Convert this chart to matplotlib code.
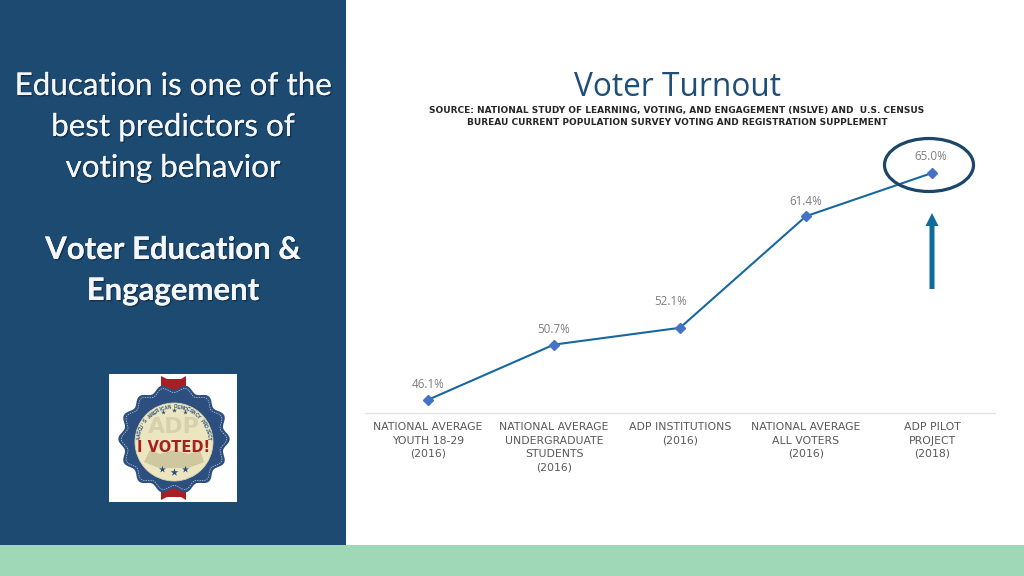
import numpy as np
import matplotlib
matplotlib.use("Agg")
import matplotlib.pyplot as plt
import matplotlib.patheffects as pe
from matplotlib.patches import Rectangle, Ellipse, Circle, Polygon, FancyArrow

categories = ["NATIONAL AVERAGE\nYOUTH 18-29\n(2016)",
              "NATIONAL AVERAGE\nUNDERGRADUATE\nSTUDENTS\n(2016)",
              "ADP INSTITUTIONS\n(2016)",
              "NATIONAL AVERAGE\nALL VOTERS\n(2016)",
              "ADP PILOT\nPROJECT\n(2018)"]
turnout = [46.1, 50.7, 52.1, 61.4, 65.0]
title = "Voter Turnout"
source = ("SOURCE: NATIONAL STUDY OF LEARNING, VOTING, AND ENGAGEMENT (NSLVE) AND  U.S. CENSUS\n"
          "BUREAU CURRENT POPULATION SURVEY VOTING AND REGISTRATION SUPPLEMENT")
side_lines = ["Education is one of the", "best predictors of", "voting behavior"]
side_bold = ["Voter Education &", "Engagement"]
label_shift_px = [(0, 15), (0, 15), (-9, 26), (0, 15), (-1, 16)]

W, H = 1024, 576
fig = plt.figure(figsize=(W / 100, H / 100), dpi=100, facecolor="white")

bg = fig.add_axes([0, 0, 1, 1], zorder=0)
bg.set_xlim(0, W); bg.set_ylim(H, 0); bg.axis("off")
NAVY = "#1c4a70"
bg.add_patch(Rectangle((0, 0), 346, 545, color=NAVY, lw=0))
bg.add_patch(Rectangle((0, 545), W, 31, color="#9fd8b7", lw=0))

# Chart
ax = fig.add_axes([365 / W, 1 - 413 / H, 630 / W, 276 / H], zorder=1)
ax.patch.set_alpha(0)
x = np.arange(len(categories))
ax.plot(x, turnout, color="#17689e", lw=1.5, marker="D", ms=4.6,
        mfc="#4472c4", mec="#4472c4", zorder=3)
ax.set_xlim(-0.5, 4.5)
ax.set_ylim(45, 68)
for s in ("top", "left", "right"):
    ax.spines[s].set_visible(False)
ax.spines["bottom"].set_color("#e2e2e2")
ax.spines["bottom"].set_linewidth(1)
ax.set_yticks([])
ax.set_xticks(x)
ax.set_xticklabels(categories, fontsize=7.8, color="#595959", family="DejaVu Sans",
                   linespacing=1.4, va="top")
ax.tick_params(axis="x", length=0, pad=6.8)
for xi, v, (dx, dy) in zip(x, turnout, label_shift_px):
    ax.annotate(f"{v:.1f}%", (xi, v), xytext=(dx, dy), textcoords="offset pixels",
                ha="center", va="center", fontsize=8.4, color="#7f7f7f", family="Open Sans")

# Overlay
ov = fig.add_axes([0, 0, 1, 1], zorder=2)
ov.set_xlim(0, W); ov.set_ylim(H, 0); ov.axis("off"); ov.patch.set_alpha(0)

ov.text(677, 87.5, title, ha="center", va="center", fontsize=22.8, color="#1f4e79", family="Open Sans")
ov.text(677, 116.5, source, ha="center", va="center", fontsize=6.5, color="#262626",
        family="DejaVu Sans", fontweight="bold", linespacing=1.33)

shadow = [pe.withSimplePatchShadow(offset=(1, -1), shadow_rgbFace="#0c2238", alpha=0.6), pe.Normal()]
for i, t in enumerate(side_lines):
    ov.text(173, 86 + 41 * i, t, ha="center", va="center", fontsize=22.6, color="#f4f6f8",
            family="Lato", path_effects=shadow)
for i, t in enumerate(side_bold):
    ov.text(173, 250 + 41 * i, t, ha="center", va="center", fontsize=22.4, color="#f4f6f8",
            family="Lato", fontweight="bold", path_effects=shadow)

ov.add_patch(Ellipse((929, 165), 89, 53, fc="none", ec="#1b4669", lw=2.3))
ov.add_patch(FancyArrow(932, 289, 0, -76, width=5, head_width=13, head_length=13,
                        length_includes_head=True, color="#0f6a9e", lw=0))

# Logo badge
cx, cy = 174, 439
ov.add_patch(Rectangle((109, 374), 128, 128, color="white", lw=0))
ov.add_patch(Polygon([(161, 376), (167, 379), (181, 379), (186, 376), (186, 392), (161, 392)],
                     color="#a81e24", lw=0))
ov.add_patch(Polygon([(161, 500), (167, 497), (181, 497), (186, 500), (186, 484), (161, 484)],
                     color="#a81e24", lw=0))
th = np.linspace(0, 2 * np.pi, 361)
r = 52 + 2.6 * np.cos(14 * th)
ov.add_patch(Polygon(np.c_[cx + 1.02 * r * np.cos(th), cy + r * np.sin(th)], color="#2c4f7f", lw=0))
r2 = 49 + 2.6 * np.cos(14 * th)
ov.plot(cx + 1.02 * r2 * np.cos(th), cy + r2 * np.sin(th), color="#c9d3e0", lw=0.5, ls=(0, (2, 1.5)))
cy2 = 442
ov.add_patch(Circle((cx, cy2), 39, fc="#ece6c0", ec="#d8d2b0", lw=0.6))
ov.text(cx, cy2 - 15, "ADP", ha="center", va="center", fontsize=16, color="#d6d0ac",
        family="Liberation Sans Narrow", fontweight="bold")
ov.add_patch(Polygon([(cx - 30, cy2 + 20), (cx - 24, cy2 + 8), (cx - 14, cy2 + 12), (cx, cy2 + 8),
                      (cx + 14, cy2 + 12), (cx + 26, cy2 + 8), (cx + 30, cy2 + 20), (cx + 15, cy2 + 26),
                      (cx - 15, cy2 + 26)], color="#cfc79f", lw=0))
ov.text(cx, cy2 + 6, "I VOTED!", ha="center", va="center", fontsize=10.5, color="#a5201f",
        family="Liberation Sans Narrow", fontweight="bold")
for dx, dy, s in [(-11, -31, 12), (0, -33, 14), (11, -31, 12)]:
    ov.scatter([cx + dx], [cy2 + dy + 1], marker="*", s=s, color="#2c4f7f", lw=0)
for dx, dy, s in [(-12, 27, 28), (0, 30, 34), (11, 27, 28)]:
    ov.scatter([cx + dx], [cy2 + dy], marker="*", s=s, color="#2c4f7f", lw=0)
arc = "AASCU'S AMERICAN DEMOCRACY PROJECT"
for ch, a in zip(arc, np.linspace(-84, 84, len(arc))):
    rad = np.deg2rad(a)
    ov.text(cx + 35 * np.sin(rad), cy2 - 35 * np.cos(rad), ch, ha="center", va="center",
            rotation=-a, fontsize=3.4, color="#2c4f7f", family="Liberation Sans", fontweight="bold")

fig.savefig("out.png", dpi=100)
